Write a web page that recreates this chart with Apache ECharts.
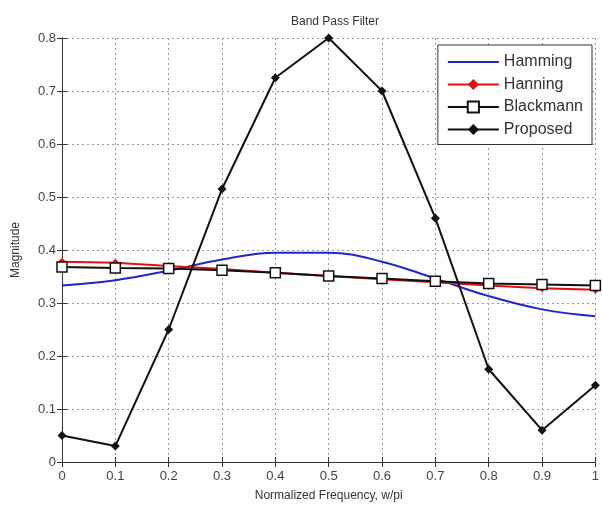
<!DOCTYPE html>
<html>
<head>
<meta charset="utf-8">
</head>
<body style="margin:0;background:#fff">
<div id="container" style="width:602px;height:508px"></div>
<script src="https://cdn.jsdelivr.net/npm/echarts@6/dist/echarts.min.js"></script>
<script>
// frequency points (w/pi)
var freq = [0, 0.1, 0.2, 0.3, 0.4, 0.5, 0.6, 0.7, 0.8, 0.9, 1];
var hamming = [0.333, 0.343, 0.361, 0.382, 0.395, 0.395, 0.378, 0.346, 0.313, 0.288, 0.275];
var hanning = [0.378, 0.376, 0.370, 0.364, 0.357, 0.351, 0.345, 0.339, 0.333, 0.328, 0.325];
var blackmann = [0.368, 0.366, 0.365, 0.362, 0.357, 0.351, 0.346, 0.341, 0.337, 0.335, 0.333];
var proposed = [0.05, 0.03, 0.25, 0.515, 0.725, 0.80, 0.70, 0.46, 0.175, 0.06, 0.145];

function pairs(ys) {
    return freq.map(function (x, i) { return [x, ys[i]]; });
}

var chart = echarts.init(document.getElementById('container'));
var font = 'Liberation Sans, Arial, sans-serif';
var gridLine = {show: true, lineStyle: {color: '#999', type: [2, 3], width: 1}};
var axisLine = {show: true, lineStyle: {color: '#333', width: 1}};
var tick = {show: true, inside: true, length: 5, lineStyle: {color: '#333'}};

var option = {
    animation: false,
    title: {
        text: 'Band Pass Filter',
        left: 330, top: 11, textAlign: 'center',
        textStyle: {fontFamily: font, fontSize: 12, fontWeight: 'normal', color: '#333'}
    },
    legend: {
        orient: 'vertical',
        right: 10, top: 45,
        padding: [9, 9, 7, 9],
        itemWidth: 51, itemHeight: 14, itemGap: 6.5,
        backgroundColor: '#fff', borderColor: '#333', borderWidth: 1, borderRadius: 0,
        textStyle: {fontFamily: font, fontSize: 16, lineHeight: 16, color: '#333'},
        data: [
            {name: 'Hamming', itemStyle: {color: 'rgba(0,0,0,0)', borderWidth: 0}},
            'Hanning', 'Blackmann', 'Proposed'
        ]
    },
    grid: {left: 62, right: 3, top: 38, bottom: 46},
    xAxis: [{
        type: 'value', min: 0, max: 1, interval: 0.1,
        name: 'Normalized Frequency, w/pi', nameLocation: 'middle', nameGap: 28,
        nameTextStyle: {fontFamily: font, fontSize: 12, color: '#333'},
        axisLine: axisLine, axisTick: tick, splitLine: gridLine,
        axisLabel: {fontFamily: font, fontSize: 13, color: '#444', margin: 8}
    }, {
        type: 'value', min: 0, max: 1, interval: 0.1, position: 'top',
        axisLine: axisLine, axisTick: tick, splitLine: {show: false},
        axisLabel: {show: false}
    }],
    yAxis: [{
        type: 'value', min: 0, max: 0.8, interval: 0.1,
        name: 'Magnitude', nameLocation: 'middle', nameGap: 40,
        nameTextStyle: {fontFamily: font, fontSize: 12, color: '#333'},
        axisLine: axisLine, axisTick: tick, splitLine: gridLine,
        axisLabel: {fontFamily: font, fontSize: 13, color: '#444', margin: 6}
    }, {
        type: 'value', min: 0, max: 0.8, interval: 0.1, position: 'right',
        axisLine: axisLine, axisTick: tick, splitLine: {show: false},
        axisLabel: {show: false}
    }],
    series: [{
        name: 'Hamming', type: 'line', smooth: 0.4, showSymbol: false,
        symbol: 'none',
        lineStyle: {color: '#2424c8', width: 2},
        itemStyle: {color: '#2424c8'},
        data: pairs(hamming)
    }, {
        name: 'Hanning', type: 'line',
        symbol: 'diamond', symbolSize: 8,
        lineStyle: {color: '#e01010', width: 2},
        itemStyle: {color: '#e01010'},
        data: pairs(hanning)
    }, {
        name: 'Blackmann', type: 'line',
        symbol: 'rect', symbolSize: 10,
        lineStyle: {color: '#111', width: 2},
        itemStyle: {color: '#fff', borderColor: '#111', borderWidth: 1.5},
        data: pairs(blackmann)
    }, {
        name: 'Proposed', type: 'line',
        symbol: 'diamond', symbolSize: 9,
        lineStyle: {color: '#111', width: 2},
        itemStyle: {color: '#111'},
        data: pairs(proposed)
    }]
};
chart.setOption(option);
</script>
</body>
</html>
